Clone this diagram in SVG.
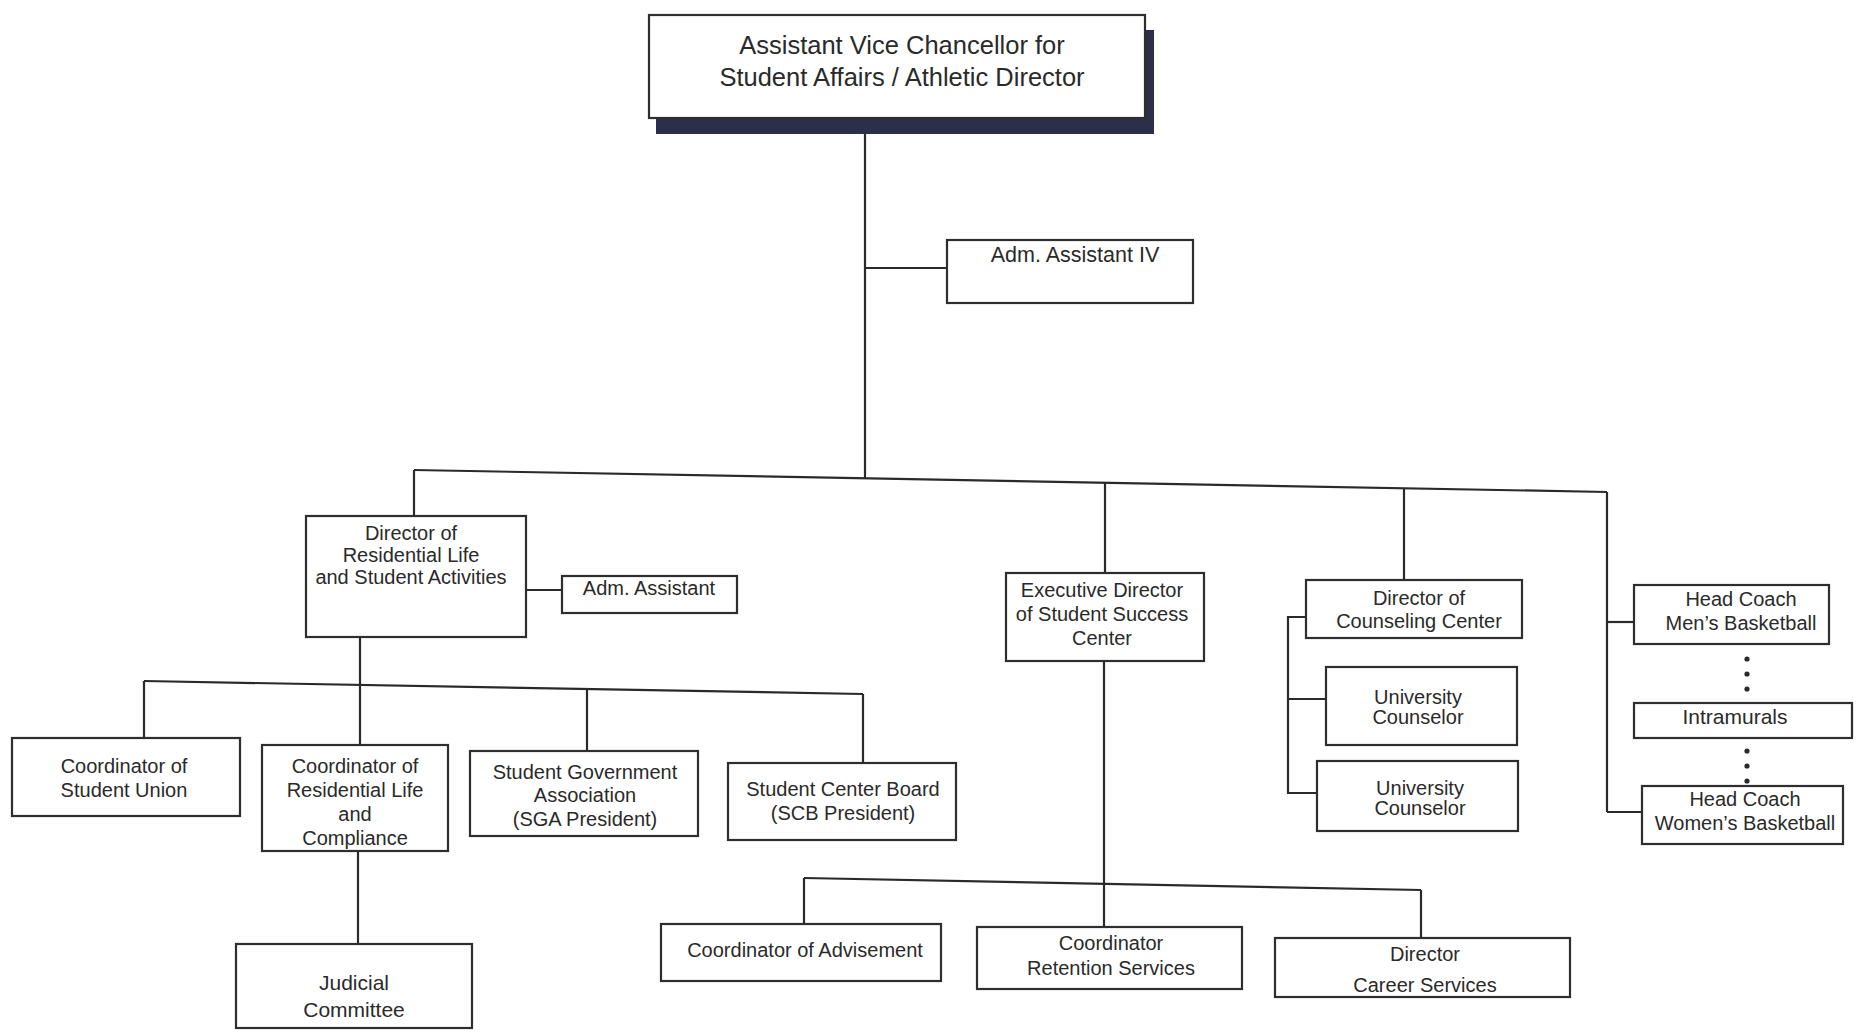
<svg xmlns="http://www.w3.org/2000/svg" width="1856" height="1032" viewBox="0 0 1856 1032">
<style>
  .box { fill: #ffffff; stroke: #2e2e2e; stroke-width: 2.2; }
  .shadow { fill: #2c2f4a; }
  .conn { fill: none; stroke: #2a2a2a; stroke-width: 2.2; }
  text { font-family: "Liberation Sans", Arial, sans-serif; fill: #2a2a2a; text-anchor: middle; font-size: 20px; }
  .big { font-size: 25.5px; }
  .dot { fill: #2a2a2a; }
</style>
<rect x="0" y="0" width="1856" height="1032" fill="#ffffff"/>

<g id="connectors">
  <path class="conn" d="M865,118 V478"/>
  <path class="conn" d="M865,268 H947"/>
  <path class="conn" d="M414,470 L1607,492"/>
  <path class="conn" d="M414,470 V516"/>
  <path class="conn" d="M1105,483 V573"/>
  <path class="conn" d="M1404,488 V580"/>
  <path class="conn" d="M1607,492 V812"/>
  <path class="conn" d="M1607,622 H1634"/>
  <path class="conn" d="M1607,812 H1642"/>
  <path class="conn" d="M526,590 H562"/>
  <path class="conn" d="M360,637 V745"/>
  <path class="conn" d="M144,681 L863,694"/>
  <path class="conn" d="M144,681 V738"/>
  <path class="conn" d="M587,689 V751"/>
  <path class="conn" d="M863,694 V763"/>
  <path class="conn" d="M358,851 V944"/>
  <path class="conn" d="M1306,617 H1288 V793 H1317"/>
  <path class="conn" d="M1288,699 H1326"/>
  <path class="conn" d="M1104,661 V927"/>
  <path class="conn" d="M804,878 L1421,890"/>
  <path class="conn" d="M804,878 V924"/>
  <path class="conn" d="M1421,890 V938"/>
</g>

<g id="node-avc">
  <rect class="shadow" x="656" y="30" width="498" height="104"/>
  <rect class="box" x="649" y="15" width="496" height="103"/>
  <text class="big" x="902" y="54">Assistant Vice Chancellor for</text>
  <text class="big" x="902" y="86">Student Affairs / Athletic Director</text>
</g>

<g id="node-adm4">
  <rect class="box" x="947" y="240" width="246" height="63"/>
  <text x="1075" y="262" style="font-size:21.5px">Adm. Assistant IV</text>
</g>

<g id="node-dir-res">
  <rect class="box" x="306" y="516" width="220" height="121"/>
  <text x="411" y="540">Director of</text>
  <text x="411" y="562">Residential Life</text>
  <text x="411" y="584">and Student Activities</text>
</g>

<g id="node-adm">
  <rect class="box" x="562" y="576" width="175" height="37"/>
  <text x="649" y="595">Adm. Assistant</text>
</g>

<g id="node-coord-union">
  <rect class="box" x="12" y="738" width="228" height="78"/>
  <text x="124" y="773">Coordinator of</text>
  <text x="124" y="797">Student Union</text>
</g>

<g id="node-coord-res">
  <rect class="box" x="262" y="745" width="186" height="106"/>
  <text x="355" y="773">Coordinator of</text>
  <text x="355" y="797">Residential Life</text>
  <text x="355" y="821">and</text>
  <text x="355" y="845">Compliance</text>
</g>

<g id="node-judicial">
  <rect class="box" x="236" y="944" width="236" height="84"/>
  <text x="354" y="990" style="font-size:21px">Judicial</text>
  <text x="354" y="1017" style="font-size:21px">Committee</text>
</g>

<g id="node-sga">
  <rect class="box" x="470" y="751" width="228" height="85"/>
  <text x="585" y="779">Student Government</text>
  <text x="585" y="802">Association</text>
  <text x="585" y="826">(SGA President)</text>
</g>

<g id="node-scb">
  <rect class="box" x="728" y="763" width="228" height="77"/>
  <text x="843" y="796">Student Center Board</text>
  <text x="843" y="820">(SCB President)</text>
</g>

<g id="node-exec">
  <rect class="box" x="1006" y="573" width="198" height="88"/>
  <text x="1102" y="597">Executive Director</text>
  <text x="1102" y="621">of Student Success</text>
  <text x="1102" y="645">Center</text>
</g>

<g id="node-counseling">
  <rect class="box" x="1306" y="580" width="216" height="58"/>
  <text x="1419" y="605">Director of</text>
  <text x="1419" y="628">Counseling Center</text>
</g>

<g id="node-uc1">
  <rect class="box" x="1326" y="667" width="191" height="78"/>
  <text x="1418" y="704">University</text>
  <text x="1418" y="724">Counselor</text>
</g>

<g id="node-uc2">
  <rect class="box" x="1317" y="761" width="201" height="70"/>
  <text x="1420" y="795">University</text>
  <text x="1420" y="815">Counselor</text>
</g>

<g id="node-mens">
  <rect class="box" x="1634" y="585" width="195" height="59"/>
  <text x="1741" y="606">Head Coach</text>
  <text x="1741" y="630">Men’s Basketball</text>
</g>

<g id="node-intramurals">
  <rect class="box" x="1634" y="703" width="218" height="35"/>
  <text x="1735" y="724" style="font-size:21px">Intramurals</text>
</g>

<g id="node-womens">
  <rect class="box" x="1642" y="786" width="201" height="58"/>
  <text x="1745" y="806">Head Coach</text>
  <text x="1745" y="830">Women’s Basketball</text>
</g>

<g id="dots">
  <circle class="dot" cx="1747" cy="659" r="2.6"/>
  <circle class="dot" cx="1747" cy="674" r="2.6"/>
  <circle class="dot" cx="1747" cy="689" r="2.6"/>
  <circle class="dot" cx="1747" cy="751" r="2.6"/>
  <circle class="dot" cx="1747" cy="766" r="2.6"/>
  <circle class="dot" cx="1747" cy="781" r="2.6"/>
</g>

<g id="node-advisement">
  <rect class="box" x="661" y="924" width="280" height="57"/>
  <text x="805" y="957">Coordinator of Advisement</text>
</g>

<g id="node-retention">
  <rect class="box" x="977" y="927" width="265" height="62"/>
  <text x="1111" y="950">Coordinator</text>
  <text x="1111" y="975">Retention Services</text>
</g>

<g id="node-career">
  <rect class="box" x="1275" y="938" width="295" height="59"/>
  <text x="1425" y="961">Director</text>
  <text x="1425" y="992">Career Services</text>
</g>
</svg>
